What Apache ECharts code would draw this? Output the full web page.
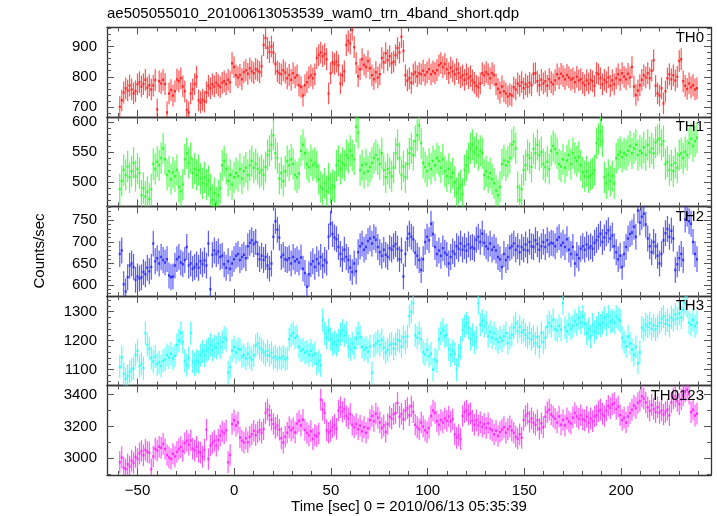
<!DOCTYPE html>
<html><head><meta charset="utf-8">
<script src="https://cdn.jsdelivr.net/npm/echarts@6/dist/echarts.min.js"></script>
<style>html,body{margin:0;padding:0;background:#fff}#c{width:717px;height:516px}</style>
</head><body><div id="c"></div>
<script>
const titleText = 'ae505055010_20100613053539_wam0_trn_4band_short.qdp';
const xTitle = 'Time [sec] 0 = 2010/06/13 05:35:39';
const yTitle = 'Counts/sec';
const panelNames = ['TH0', 'TH1', 'TH2', 'TH3', 'TH0123'];

// time bins (start of grid and bin width, seconds)
const binStart = -59.2;
const binSize = 1.0186;
const xMin = -65.8, xMax = 246.5;
const xTicks = [-50, 0, 50, 100, 150, 200];
const xMinorStep = 10;

const th0 = [
700,722,748,762,755,771,758,745,752,775,
782,768,776,790,764,772,758,771,789,692,
785,778,790,776,682,745,756,738,752,791,
785,795,768,752,690,682,745,758,776,800,
722,715,724,718,748,770,762,775,768,780,
772,766,780,785,776,790,782,845,832,805,
798,806,792,815,822,810,828,818,812,826,
820,815,835,905,928,895,882,900,880,842,
818,812,808,822,814,795,806,790,812,798,
805,772,766,738,772,782,798,805,795,808,
862,872,880,868,875,858,745,812,848,842,
850,838,778,805,818,905,918,910,955,898,
845,802,825,858,840,832,852,828,805,792,
815,798,808,862,848,878,855,868,845,850,
872,895,880,932,885,805,788,795,780,808,
815,802,812,808,820,806,815,825,808,818,
812,822,838,845,832,842,825,812,830,818,
808,825,812,798,805,790,808,795,802,788,
780,770,765,778,812,805,815,808,795,812,
805,775,760,748,768,752,745,735,742,738,
765,758,778,770,782,762,775,768,780,772,
810,812,785,772,790,778,785,770,792,782,
775,788,808,795,810,802,792,806,798,790,
795,782,800,788,792,780,772,788,778,790,
785,770,812,808,795,775,790,782,798,770,
788,775,795,808,790,812,800,792,810,798,
832,768,740,755,772,790,805,798,812,795,
820,855,770,745,738,762,712,752,795,808,
792,805,788,800,852,858,785,770,760,778,
765,772,758,762];

const th1 = [
488,502,520,512,526,508,518,532,510,522,
515,478,490,476,484,472,488,530,522,534,
528,540,556,538,512,518,505,516,510,520,
492,485,496,538,548,532,540,515,522,512,
520,506,498,508,496,502,488,470,482,466,
478,490,528,535,522,502,512,496,508,515,
510,522,506,518,524,512,528,535,524,530,
522,516,520,512,525,545,552,562,578,548,
540,506,515,502,518,535,528,538,530,512,
508,514,552,562,548,530,525,536,528,532,
526,505,492,488,498,485,506,490,495,492,
528,535,522,532,528,545,540,552,544,538,
592,582,520,528,515,530,518,525,532,540,
545,538,530,548,520,508,522,515,510,524,
548,562,540,512,526,508,530,548,556,545,
568,578,594,565,532,525,518,530,522,535,
528,540,535,524,538,518,510,522,508,515,
500,482,490,495,480,520,528,540,556,562,
550,556,545,552,548,512,518,508,515,505,
498,486,478,492,530,536,528,534,540,562,
567,556,492,470,488,520,528,545,540,525,
555,548,562,545,550,530,525,534,522,552,
560,555,548,530,526,538,524,536,545,530,
548,540,535,542,528,516,510,518,508,512,
515,520,565,572,584,568,508,498,512,502,
510,498,540,546,550,542,548,545,552,560,
548,556,562,545,552,548,558,545,562,550,
556,548,566,570,573,562,568,530,534,520,
528,518,532,524,545,548,540,550,545,565,
572,560,568,574];

const th2 = [
672,680,602,585,618,645,650,642,612,620,
615,618,630,625,640,632,642,696,655,662,
650,665,658,652,660,622,618,620,645,660,
665,652,648,658,688,645,650,638,642,648,
640,655,648,657,645,696,590,670,680,672,
678,665,668,648,640,655,638,650,660,668,
672,658,665,670,662,690,698,704,695,700,
672,660,668,658,665,645,638,650,712,748,
728,710,665,670,660,658,662,650,665,655,
660,652,664,638,628,596,625,648,655,642,
660,650,665,645,658,652,712,742,718,710,
706,688,672,660,682,665,658,640,630,650,
632,676,690,696,682,688,702,708,696,711,
705,688,676,668,682,670,665,686,682,690,
695,684,660,680,620,672,708,719,712,706,
675,668,658,635,660,700,712,704,742,718,
688,672,680,668,685,675,670,650,665,678,
672,690,684,696,682,690,680,694,686,688,
684,705,712,700,719,698,690,684,696,682,
688,680,665,660,642,672,658,665,686,690,
696,682,690,676,688,682,694,680,700,690,
688,704,695,682,690,700,688,704,694,698,
696,690,705,711,692,698,688,706,682,672,
688,650,670,662,684,690,682,694,686,690,
684,698,704,712,719,700,710,720,727,708,
715,690,676,660,668,642,672,688,708,718,
722,735,712,773,745,758,765,740,708,690,
676,700,690,668,650,672,704,720,730,712,
726,708,635,648,662,672,658,752,765,748,
742,700,672,660];

const th3 = [
1110,1142,1085,1068,1078,1092,1100,1104,1150,1165,
1112,1120,1105,1226,1185,1172,1140,1128,1145,1118,
1125,1112,1130,1135,1150,1142,1155,1138,1148,1185,
1200,1226,1195,1130,1115,1140,1226,1128,1118,1130,
1125,1150,1162,1148,1165,1172,1185,1168,1180,1175,
1190,1176,1195,1210,1202,1090,1108,1165,1178,1160,
1172,1168,1145,1150,1138,1155,1142,1135,1150,1182,
1190,1175,1168,1160,1150,1165,1148,1158,1140,1145,
1135,1142,1138,1145,1136,1140,1205,1218,1226,1210,
1215,1178,1165,1170,1158,1162,1150,1165,1148,1155,
1120,1130,1115,1271,1225,1210,1236,1205,1188,1195,
1185,1200,1222,1235,1218,1228,1180,1170,1190,1176,
1208,1225,1212,1178,1168,1175,1162,1180,1089,1182,
1190,1198,1185,1202,1175,1160,1168,1185,1190,1172,
1188,1203,1198,1180,1212,1195,1214,1285,1300,1329,
1218,1210,1226,1205,1160,1152,1168,1146,1155,1100,
1135,1128,1205,1225,1237,1215,1220,1170,1150,1165,
1155,1100,1148,1175,1237,1250,1260,1245,1205,1220,
1195,1210,1329,1255,1268,1250,1262,1215,1230,1210,
1225,1205,1195,1210,1200,1215,1226,1192,1210,1220,
1245,1260,1232,1248,1228,1236,1220,1210,1225,1205,
1215,1190,1212,1180,1226,1195,1210,1248,1262,1250,
1271,1240,1235,1250,1238,1329,1245,1232,1256,1242,
1250,1268,1255,1278,1262,1283,1258,1225,1240,1214,
1255,1230,1245,1260,1252,1262,1278,1255,1283,1265,
1270,1262,1283,1275,1268,1210,1195,1180,1214,1190,
1168,1150,1178,1123,1160,1245,1237,1256,1248,1260,
1240,1252,1238,1250,1262,1275,1283,1258,1270,1252,
1280,1271,1290,1276,1294,1280,1306,1329,1318,1262,
1255,1271,1250,1262];

const th0123 = [
2975,3005,2940,2930,2962,2948,2985,2970,3008,2995,
3030,3045,3018,3052,3040,3035,2930,3010,3060,3048,
3072,3065,3090,3058,3020,3005,2995,3028,3010,3040,
3058,3070,3045,3095,3110,3085,3112,3060,3048,3072,
3040,3035,3010,3052,3179,2995,3080,3095,3110,3078,
3115,3142,3168,3155,3175,2975,3020,3215,3238,3205,
3225,3130,3110,3098,3125,3100,3135,3150,3172,3145,
3165,3178,3160,3182,3285,3305,3270,3242,3215,3190,
3205,3180,3125,3098,3135,3160,3195,3175,3188,3162,
3218,3235,3205,3242,3178,3160,3142,3170,3120,3145,
3138,3155,3368,3305,3285,3175,3160,3172,3195,3210,
3185,3300,3320,3292,3310,3265,3250,3278,3210,3195,
3215,3182,3205,3170,3195,3160,3188,3240,3265,3232,
3280,3255,3225,3190,3205,3165,3215,3260,3248,3278,
3284,3347,3260,3278,3245,3300,3315,3270,3326,3290,
3210,3195,3182,3225,3200,3175,3162,3190,3265,3300,
3285,3232,3210,3240,3225,3250,3235,3262,3230,3245,
3150,3128,3145,3120,3265,3290,3300,3275,3282,3235,
3210,3238,3205,3225,3198,3215,3190,3220,3185,3175,
3150,3172,3140,3165,3180,3195,3160,3182,3200,3175,
3160,3135,3122,3150,3128,3240,3265,3280,3230,3250,
3225,3210,3238,3185,3220,3195,3260,3290,3305,3275,
3262,3248,3225,3262,3210,3240,3205,3250,3230,3218,
3255,3284,3262,3248,3270,3245,3238,3260,3225,3250,
3232,3262,3270,3295,3305,3280,3265,3300,3330,3315,
3338,3347,3310,3325,3270,3240,3255,3225,3262,3284,
3305,3330,3315,3347,3360,3389,3375,3350,3320,3298,
3335,3310,3290,3320,3285,3300,3275,3290,3305,3270,
3350,3375,3389,3360,3340,3370,3395,3420,3431,3405,
3290,3305,3268,3280];

// typical 1-sigma error bar half-lengths
const th0Err = 36, th1Err = 26, th2Err = 30, th3Err = 40, th0123Err = 68;

// y tick labels per panel
const th0Ticks = [700, 800, 900];
const th1Ticks = [500, 550, 600];
const th2Ticks = [600, 650, 700, 750];
const th3Ticks = [1100, 1200, 1300];
const th0123Ticks = [3000, 3200, 3400];

const panels = [
  {name: panelNames[0], vals: th0, err: th0Err, min: 667, max: 963, ticks: th0Ticks, minor: 20, color: '#ff2a2a'},
  {name: panelNames[1], vals: th1, err: th1Err, min: 459.5, max: 608.3, ticks: th1Ticks, minor: 10, color: '#2cff2c'},
  {name: panelNames[2], vals: th2, err: th2Err, min: 574.6, max: 782, ticks: th2Ticks, minor: 10, color: '#3232ff'},
  {name: panelNames[3], vals: th3, err: th3Err, min: 1045, max: 1354, ticks: th3Ticks, minor: 20, color: '#2cffff'},
  {name: panelNames[4], vals: th0123, err: th0123Err, min: 2894.5, max: 3457, ticks: th0123Ticks, minor: 100, color: '#ff2cff'}
];

const FONT = '"Liberation Sans", Arial, Helvetica, sans-serif';
const L = 107, R = 711, TOP0 = 27.5, PH = 89.5;

function stepList(min, max, step) {
  const a = [];
  for (let v = Math.ceil(min / step) * step; v <= max + 1e-9; v += step) a.push(+v.toFixed(6));
  return a;
}
const xMinor = stepList(xMin, xMax, xMinorStep);
const fmtNum = v => (v < 0 ? '\u2212' + Math.abs(v) : String(v));

const grids = [], xAxes = [], yAxes = [], series = [], graphics = [];
const lineStyle = {color: '#333', width: 1.3};
const tickStyle = {color: '#555', width: 1};

panels.forEach((p, i) => {
  grids.push({left: L, width: R - L, top: TOP0 + i * PH, height: PH});
  const xb = xAxes.length;
  const mkX = (pos, ticks, len, showLine, showLabel) => ({
    type: 'value', gridIndex: i, min: xMin, max: xMax, position: pos,
    axisLine: {show: showLine, onZero: false, lineStyle},
    axisTick: {show: true, inside: true, customValues: ticks, length: len, lineStyle: tickStyle},
    axisLabel: {show: showLabel, customValues: xTicks, formatter: fmtNum, color: '#000',
      fontFamily: FONT, fontSize: 15, margin: 8},
    splitLine: {show: false}, minorTick: {show: false}
  });
  xAxes.push(mkX('bottom', xTicks, 7, true, i === panels.length - 1));
  xAxes.push(mkX('top', xTicks, 7, true, false));
  xAxes.push(mkX('bottom', xMinor, 4, false, false));
  xAxes.push(mkX('top', xMinor, 4, false, false));

  const yb = yAxes.length;
  const yMinor = stepList(p.min, p.max, p.minor);
  const mkY = (pos, ticks, len, showLine, showLabel) => ({
    type: 'value', gridIndex: i, min: p.min, max: p.max, position: pos,
    axisLine: {show: showLine, onZero: false, lineStyle},
    axisTick: {show: true, inside: true, customValues: ticks, length: len, lineStyle: tickStyle},
    axisLabel: {show: showLabel, customValues: p.ticks, formatter: fmtNum, color: '#000',
      fontFamily: FONT, fontSize: 15, margin: 10},
    splitLine: {show: false}, minorTick: {show: false}
  });
  yAxes.push(mkY('left', p.ticks, 7, true, true));
  yAxes.push(mkY('right', p.ticks, 7, true, false));
  yAxes.push(mkY('left', yMinor, 4, false, false));
  yAxes.push(mkY('right', yMinor, 4, false, false));

  const data = p.vals.map((v, k) => [binStart + k * binSize, v, p.err, binSize]);
  const col = p.color;
  series.push({
    type: 'custom', xAxisIndex: xb, yAxisIndex: yb, clip: true, silent: true,
    encode: {x: 0, y: 1},
    data,
    renderItem(params, api) {
      const x = api.value(0), y = api.value(1), e = api.value(2), w = api.value(3);
      const a = api.coord([x, y + e]), b = api.coord([x, y - e]);
      const l = api.coord([x - w / 2, y]), r = api.coord([x + w / 2, y]);
      return {type: 'group', children: [
        {type: 'line', shape: {x1: a[0], y1: a[1], x2: b[0], y2: b[1]},
          style: {stroke: col, lineWidth: 1.2, opacity: 0.8}},
        {type: 'line', shape: {x1: l[0], y1: l[1], x2: r[0], y2: r[1]},
          style: {stroke: col, lineWidth: 2.5}}
      ]};
    }
  });

  graphics.push({type: 'text', x: 704, y: TOP0 + i * PH + 10,
    style: {text: p.name, font: '15px ' + FONT, fill: '#000', align: 'right', verticalAlign: 'middle'}, z: 10});
});

graphics.push({type: 'text', x: L, y: 14,
  style: {text: titleText, font: '15px ' + FONT, fill: '#000', align: 'left', verticalAlign: 'middle'}});
graphics.push({type: 'text', x: (L + R) / 2, y: 507,
  style: {text: xTitle, font: '15px ' + FONT, fill: '#000', align: 'center', verticalAlign: 'middle'}});
graphics.push({type: 'text', x: 40, y: 251, rotation: Math.PI / 2,
  style: {text: yTitle, font: '15px ' + FONT, fill: '#000', align: 'center', verticalAlign: 'middle'}});

const chart = echarts.init(document.getElementById('c'), null, {renderer: 'canvas'});
chart.setOption({
  animation: false,
  backgroundColor: '#fff',
  grid: grids, xAxis: xAxes, yAxis: yAxes, series, graphic: graphics
});
</script></body></html>
